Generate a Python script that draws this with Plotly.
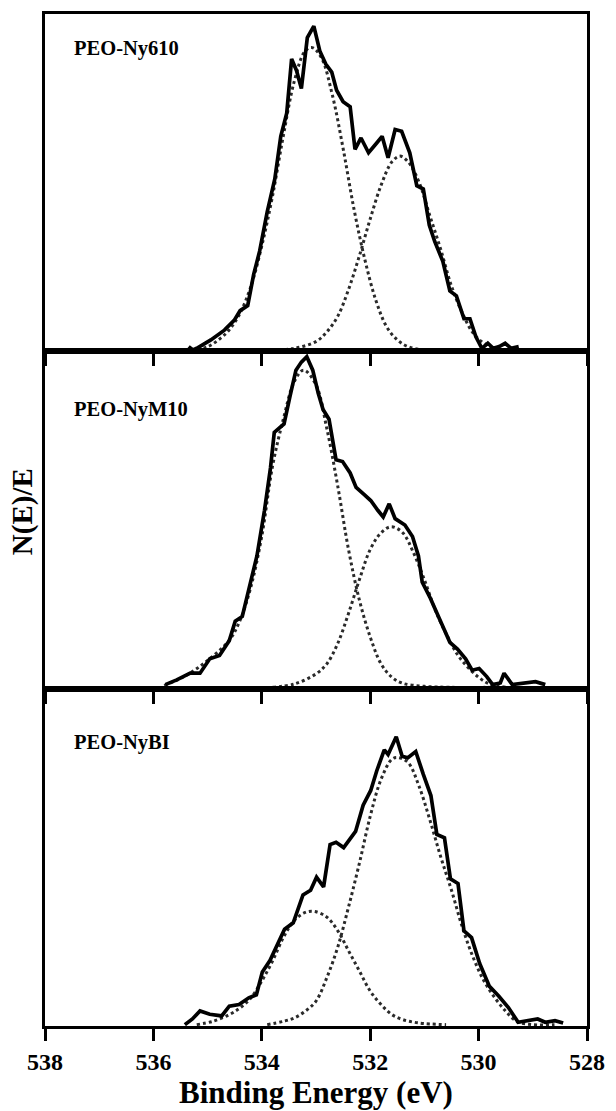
import plotly.graph_objects as go
from plotly.subplots import make_subplots

# ---------------- data ----------------
# Panel 1: PEO-Ny610
e1 = [535.35, 535.27, 535.20, 534.94, 534.69, 534.51, 534.40, 534.26, 534.15, 534.04, 533.90, 533.76,
      533.65, 533.54, 533.45, 533.36, 533.27, 533.16, 533.04, 532.93, 532.82, 532.71, 532.62,
      532.50, 532.37, 532.28, 532.17, 532.03, 531.88, 531.78, 531.67, 531.54, 531.42, 531.27,
      531.14, 531.02, 530.91, 530.81, 530.66, 530.53, 530.41, 530.27, 530.16, 530.05, 529.94,
      529.83, 529.73, 529.62, 529.51, 529.40, 529.26]
s1 = [0.010, 0.000, 0.005, 0.030, 0.059, 0.088, 0.117, 0.132, 0.225, 0.294, 0.411, 0.509,
      0.636, 0.705, 0.866, 0.832, 0.778, 0.930, 0.964, 0.890, 0.851, 0.827, 0.773,
      0.739, 0.724, 0.597, 0.631, 0.587, 0.616, 0.636, 0.572, 0.656, 0.651, 0.587,
      0.489, 0.479, 0.372, 0.323, 0.264, 0.176, 0.161, 0.093, 0.093, 0.039, 0.005,
      0.020, 0.005, 0.010, 0.020, 0.005, 0.010]
f1a_e = [535.3, 535.0, 534.8, 534.6, 534.4, 534.2, 534.0, 533.8, 533.6, 533.4, 533.2, 533.07,
         532.9, 532.7, 532.5, 532.3, 532.1, 531.9, 531.7, 531.5, 531.3, 531.0, 530.5, 529.9]
f1a = [0.0, 0.01, 0.03, 0.06, 0.11, 0.19, 0.31, 0.46, 0.64, 0.80, 0.89, 0.90,
       0.87, 0.76, 0.60, 0.42, 0.27, 0.15, 0.07, 0.03, 0.01, 0.0, 0.0, 0.0]
f1b_e = [533.8, 533.4, 533.0, 532.8, 532.6, 532.4, 532.2, 532.0, 531.8, 531.6, 531.45, 531.3,
         531.1, 530.9, 530.7, 530.5, 530.3, 530.1, 529.9, 529.7, 529.4]
f1b = [0.0, 0.005, 0.025, 0.054, 0.10, 0.18, 0.28, 0.39, 0.49, 0.56, 0.577, 0.56,
       0.50, 0.40, 0.30, 0.19, 0.11, 0.05, 0.02, 0.005, 0.0]

# Panel 2: PEO-NyM10
e2 = [535.78, 535.57, 535.32, 535.14, 534.96, 534.78, 534.60, 534.49, 534.36, 534.24, 534.09,
      533.95, 533.84, 533.77, 533.59, 533.48, 533.37, 533.27, 533.17, 533.06, 532.96, 532.87,
      532.76, 532.63, 532.51, 532.37, 532.26, 532.12, 531.99, 531.86, 531.76, 531.65, 531.54,
      531.36, 531.22, 531.11, 531.04, 530.89, 530.71, 530.53, 530.39, 530.24, 530.12, 529.99,
      529.85, 529.74, 529.60, 529.53, 529.38, 529.17, 528.95, 528.77]
s2 = [0.008, 0.022, 0.042, 0.042, 0.085, 0.095, 0.139, 0.197, 0.211, 0.294, 0.391,
      0.527, 0.653, 0.759, 0.784, 0.866, 0.944, 0.968, 0.984, 0.944, 0.876, 0.827,
      0.798, 0.677, 0.672, 0.638, 0.595, 0.575, 0.556, 0.527, 0.507, 0.546, 0.502,
      0.483, 0.449, 0.391, 0.313, 0.265, 0.197, 0.134, 0.114, 0.085, 0.051, 0.056,
      0.032, 0.008, 0.013, 0.042, 0.008, 0.013, 0.017, 0.008]
f2a_e = [535.8, 535.4, 535.0, 534.6, 534.4, 534.2, 534.0, 533.8, 533.6, 533.4, 533.23, 533.0,
         532.8, 532.6, 532.4, 532.2, 532.0, 531.8, 531.6, 531.4, 531.0, 530.5, 529.8]
f2a = [0.005, 0.035, 0.08, 0.14, 0.20, 0.30, 0.45, 0.66, 0.80, 0.91, 0.944, 0.90,
       0.77, 0.60, 0.41, 0.26, 0.15, 0.07, 0.03, 0.012, 0.003, 0.0, 0.0]
f2b_e = [533.8, 533.4, 533.0, 532.8, 532.6, 532.4, 532.2, 532.0, 531.8, 531.61, 531.4, 531.2,
         531.0, 530.8, 530.6, 530.4, 530.2, 530.0, 529.8, 529.5]
f2b = [0.0, 0.01, 0.04, 0.07, 0.13, 0.22, 0.32, 0.41, 0.46, 0.478, 0.46, 0.40,
       0.32, 0.23, 0.16, 0.10, 0.06, 0.03, 0.01, 0.0]

# Panel 3: PEO-NyBI
e3 = [535.42, 535.28, 535.14, 534.96, 534.74, 534.60, 534.42, 534.24, 534.10, 533.99, 533.85,
      533.71, 533.58, 533.42, 533.24, 533.10, 532.99, 532.86, 532.74, 532.63, 532.49, 532.27,
      532.13, 531.99, 531.88, 531.74, 531.67, 531.52, 531.41, 531.31, 531.16, 531.02, 530.88,
      530.77, 530.63, 530.52, 530.38, 530.27, 530.13, 529.98, 529.80, 529.63, 529.45, 529.27,
      529.12, 528.91, 528.77, 528.59, 528.44]
s3 = [0.000, 0.017, 0.041, 0.031, 0.026, 0.055, 0.060, 0.080, 0.089, 0.157, 0.191,
      0.240, 0.284, 0.303, 0.386, 0.400, 0.439, 0.410, 0.536, 0.543, 0.527, 0.575,
      0.653, 0.697, 0.755, 0.818, 0.804, 0.857, 0.799, 0.794, 0.813, 0.745, 0.682,
      0.566, 0.556, 0.434, 0.420, 0.279, 0.259, 0.182, 0.114, 0.085, 0.051, 0.007,
      0.012, 0.017, 0.007, 0.012, 0.005]
f3a_e = [535.2, 534.9, 534.6, 534.4, 534.2, 534.0, 533.8, 533.6, 533.4, 533.2, 533.03, 532.8,
         532.6, 532.4, 532.2, 532.0, 531.8, 531.6, 531.4, 531.1, 530.6]
f3a = [0.0, 0.01, 0.03, 0.05, 0.08, 0.13, 0.19, 0.26, 0.31, 0.334, 0.337, 0.32,
       0.28, 0.22, 0.16, 0.10, 0.06, 0.03, 0.015, 0.005, 0.0]
f3b_e = [533.9, 533.6, 533.4, 533.2, 533.0, 532.8, 532.6, 532.4, 532.2, 532.0, 531.8, 531.6,
         531.49, 531.3, 531.1, 530.9, 530.7, 530.5, 530.3, 530.1, 529.9, 529.7, 529.5, 529.3,
         529.0, 528.6]
f3b = [0.0, 0.01, 0.02, 0.04, 0.07, 0.14, 0.23, 0.35, 0.48, 0.62, 0.73, 0.79,
       0.795, 0.78, 0.71, 0.61, 0.50, 0.40, 0.29, 0.20, 0.13, 0.08, 0.04, 0.01,
       0.0, 0.0]

panel_labels = ["PEO-Ny610", "PEO-NyM10", "PEO-NyBI"]
tick_vals = [538, 536, 534, 532, 530, 528]
tick_text = ["538", "536", "534", "532", "530", "528"]

# ---------------- figure ----------------
FONT = "Liberation Serif"
fig = make_subplots(rows=3, cols=1, shared_xaxes=True, vertical_spacing=0)

panels = [
    (e1, s1, [(f1a_e, f1a), (f1b_e, f1b)]),
    (e2, s2, [(f2a_e, f2a), (f2b_e, f2b)]),
    (e3, s3, [(f3a_e, f3a), (f3b_e, f3b)]),
]
for i, (ex, sy, fits) in enumerate(panels, start=1):
    for fe, fy in fits:
        fig.add_trace(go.Scatter(x=fe, y=fy, mode="lines", line_shape="spline",
                                 line=dict(color="#2a2a2a", width=3, dash="dot"),
                                 showlegend=False, hoverinfo="skip"), row=i, col=1)
    fig.add_trace(go.Scatter(x=ex, y=sy, mode="lines",
                             line=dict(color="black", width=3.7),
                             showlegend=False), row=i, col=1)

label_y = [0.898, 0.827, 0.839]
for i, (lab, ly) in enumerate(zip(panel_labels, label_y), start=1):
    ax = "" if i == 1 else str(i)
    fig.add_annotation(text=lab, xref=f"x{ax} domain", yref=f"y{ax} domain",
                       x=0.049, y=ly, xanchor="left", yanchor="middle", showarrow=False,
                       font=dict(family=FONT, size=20.5, color="black", weight="bold"))

for i in range(1, 4):
    fig.update_yaxes(range=[-0.004, 1.0], showticklabels=False, ticks="",
                     showgrid=False, zeroline=False, showline=True, linecolor="black",
                     linewidth=3, mirror=True, row=i, col=1)
    fig.update_xaxes(range=[538, 528], tickvals=tick_vals, ticktext=tick_text,
                     ticks="outside", ticklen=12, tickwidth=3, tickcolor="black",
                     showgrid=False, zeroline=False, showline=True, linecolor="black",
                     linewidth=3, mirror=True, row=i, col=1,
                     showticklabels=(i == 3),
                     tickfont=dict(family=FONT, size=24, color="black", weight="bold"))

fig.update_xaxes(title_text="Binding Energy (eV)", title_standoff=4,
                 title_font=dict(family=FONT, size=31, color="black", weight="bold"),
                 row=3, col=1)

fig.add_annotation(text="N(E)/E", xref="paper", yref="paper", x=-0.040, y=0.508,
                   textangle=-90, showarrow=False, xanchor="center", yanchor="middle",
                   font=dict(family=FONT, size=29, color="black", weight="bold"))

fig.update_layout(width=616, height=1111, plot_bgcolor="white", paper_bgcolor="white",
                  margin=dict(l=45, r=22, t=11, b=74))

fig.write_html("out.html", config={"displayModeBar": False},
               post_script="document.body.style.margin='0';document.body.style.overflow='hidden';")
